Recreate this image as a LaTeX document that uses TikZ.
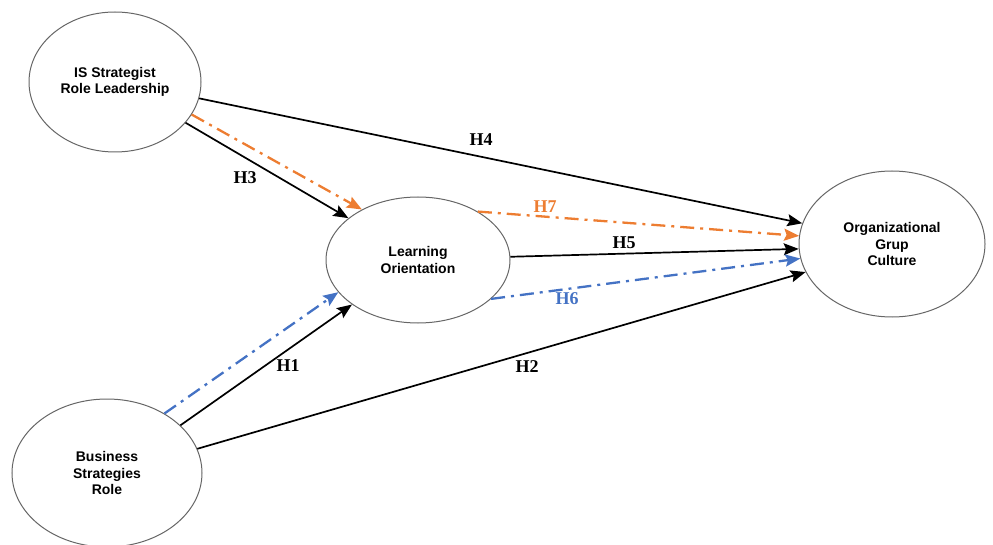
\documentclass[tikz,border=0pt]{standalone}
\usepackage{fontspec}
\setmainfont{Liberation Serif}
\setsansfont{Liberation Sans}
\usetikzlibrary{arrows.meta,shapes.geometric}
\definecolor{hyporange}{RGB}{237,125,49}
\definecolor{hypblue}{RGB}{68,114,196}

\begin{document}
\begin{tikzpicture}[
  x=1pt,y=-1pt,
  construct/.style={ellipse,draw=black!60,line width=1pt,inner sep=0pt,
                    align=center,font=\sffamily\bfseries\fontsize{14}{16.5}\selectfont},
  hyp/.style={draw=black,line width=1.7pt,
              -{Stealth[length=15pt,width=12pt,inset=2.5pt]}},
  medorange/.style={hyp,draw=hyporange,line width=2.3pt,
                    dash pattern=on 14pt off 6pt on 3pt off 6pt},
  medblue/.style={hyp,draw=hypblue,line width=2.3pt,
                  dash pattern=on 14pt off 6pt on 3pt off 6pt},
  hlabel/.style={font=\rmfamily\bfseries\fontsize{18}{18}\selectfont}
]
\useasboundingbox (0,0) rectangle (993,545);

% constructs
\node[construct,minimum width=172pt,minimum height=140pt] (isl) at (115,82)
  {IS Strategist\\Role Leadership};
\node[construct,minimum width=184pt,minimum height=126pt] (lo) at (418,260)
  {Learning\\Orientation};
\node[construct,minimum width=186pt,minimum height=146pt] (ogc) at (892,244)
  {Organizational\\Grup\\Culture};
\node[construct,minimum width=190pt,minimum height=148pt] (bsr) at (107,473)
  {Business\\Strategies\\Role};

% direct paths
\draw[hyp] (isl.-11) -- (ogc.167);
\draw[hyp] (isl.-30) -- (lo.149);
\draw[hyp] (lo.2.5) -- (ogc.-177.5);
\draw[hyp] (bsr.33) -- (lo.-146);
\draw[hyp] (bsr.15.6) -- (ogc.-162);

% mediated paths
\draw[medorange] (isl.-23.5) -- (lo.138.5);
\draw[medorange] (lo.39) -- (ogc.175);
\draw[medblue] (bsr.46) -- (lo.-158);
\draw[medblue] (lo.-28.5) -- (ogc.-171);

% hypotheses
\node[hlabel] (h1) at (288,366) {H1};
\node[hlabel] (h2) at (527,367) {H2};
\node[hlabel] (h3) at (245,178) {H3};
\node[hlabel] (h4) at (481,140) {H4};
\node[hlabel] (h5) at (624,243) {H5};
\node[hlabel,text=hypblue] (h6) at (567,299) {H6};
\node[hlabel,text=hyporange] (h7) at (545,207) {H7};
\end{tikzpicture}
\end{document}
